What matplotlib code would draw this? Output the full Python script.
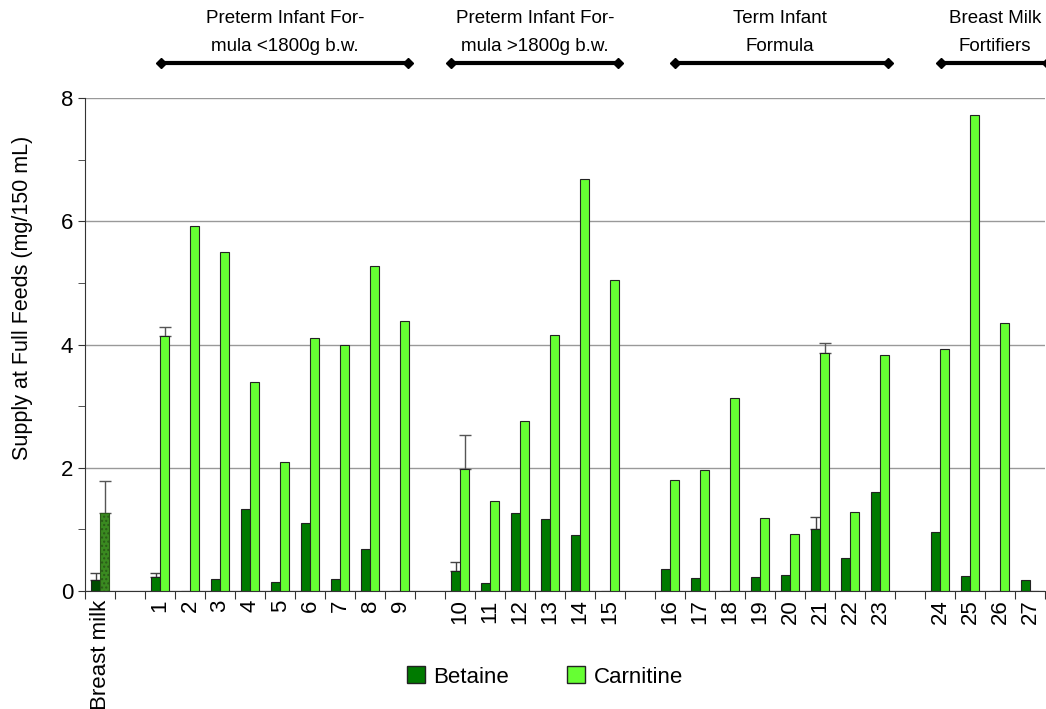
# Betaine and carnitine supply at full feeds - breast milk vs. formulas

import numpy as np
import matplotlib.pyplot as plt
from matplotlib.patches import Patch
from matplotlib.ticker import MultipleLocator

plt.rcParams['font.family'] = ['Liberation Sans', 'DejaVu Sans']

# ==========================
# Data
# ==========================

labels = ["Breast milk", ""] + [str(i) for i in range(1, 10)] + [""] \
    + [str(i) for i in range(10, 16)] + [""] \
    + [str(i) for i in range(16, 24)] + [""] \
    + [str(i) for i in range(24, 28)]

betaine = [0.18, np.nan,
           0.23, 0, 0.19, 1.33, 0.15, 1.10, 0.20, 0.68, 0, np.nan,
           0.32, 0.13, 1.27, 1.17, 0.91, 0, np.nan,
           0.36, 0.21, 0, 0.23, 0.26, 1.01, 0.54, 1.61, np.nan,
           0.96, 0.25, 0, 0.18]

carnitine = [1.27, np.nan,
             4.14, 5.92, 5.50, 3.39, 2.10, 4.10, 4.00, 5.27, 4.38, np.nan,
             1.98, 1.46, 2.76, 4.16, 6.68, 5.05, np.nan,
             1.80, 1.96, 3.13, 1.18, 0.93, 3.87, 1.29, 3.83, np.nan,
             3.93, 7.73, 4.35, 0]

# error bar tops (upper only), keyed by slot index
betaine_err = {0: 0.11, 2: 0.06, 12: 0.15, 24: 0.19}
carnitine_err = {0: 0.52, 2: 0.15, 12: 0.55, 24: 0.16}

groups = [
    ("Preterm Infant For-\nmula <1800g b.w.", 2.03, 10.27, 6.17),
    ("Preterm Infant For-\nmula >1800g b.w.", 11.7, 17.27, 14.5),
    ("Term Infant\nFormula", 19.17, 26.27, 22.67),
    ("Breast Milk\nFortifiers", 28.03, 31.55, 29.83),
]

# ==========================
# Plot
# ==========================

x = np.arange(len(labels))
w = 0.3

fig = plt.figure(figsize=(10.46, 7.09), dpi=100)
ax = fig.add_axes([0.0813, 0.1664, 0.918, 0.6954])

bet_colors = ["#004d00"] + ["#007a00"] * (len(x) - 1)
car_colors = ["#3a8a20"] + ["#66ff33"] * (len(x) - 1)

ax.bar(x - w / 2, betaine, w, color=bet_colors, edgecolor="#222222",
       linewidth=0.8, zorder=3)
cb = ax.bar(x + w / 2, carnitine, w, color=car_colors, edgecolor="#222222",
            linewidth=0.8, zorder=3)
cb[0].set_hatch("....")
cb[0].set_edgecolor("#2a5a18")

for i, e in betaine_err.items():
    ax.errorbar(x[i] - w / 2, betaine[i], yerr=[[0], [e]], fmt="none",
                ecolor="#444444", elinewidth=1, capsize=4, zorder=2)
for i, e in carnitine_err.items():
    ax.errorbar(x[i] + w / 2, carnitine[i], yerr=[[0], [e]], fmt="none",
                ecolor="#555555", elinewidth=1, capsize=4, zorder=2)

ax.set_xlim(-0.5, len(x) - 0.5)
ax.set_ylim(0, 8)

ax.yaxis.set_major_locator(MultipleLocator(2))
ax.yaxis.set_minor_locator(MultipleLocator(1))
ax.grid(axis="y", which="major", color="#999999", linewidth=1, zorder=0)
ax.tick_params(axis="y", which="both", direction="out", length=5,
               labelsize=16, color="#333333")

ax.set_xticks(np.arange(-0.5, len(x), 1))
ax.set_xticklabels([])
ax.set_xticks(x, minor=True)
ax.set_xticklabels(labels, minor=True, rotation=90, fontsize=16)
ax.tick_params(axis="x", which="major", direction="out", length=6, color="#333333")
ax.tick_params(axis="x", which="minor", length=0, pad=6)

ax.set_ylabel("Supply at Full Feeds (mg/150 mL)", fontsize=15.5)
ax.yaxis.set_label_coords(-0.054, 0.594)

for s in ["top", "right"]:
    ax.spines[s].set_visible(False)
ax.spines["left"].set_color("#333333")
ax.spines["bottom"].set_color("#333333")

# group arrows and titles above the axes
for name, x0, x1, xc in groups:
    ax.plot([x0, x1], [8.56, 8.56], color="black", lw=3, clip_on=False,
            solid_capstyle="butt")
    ax.plot([x0, x1], [8.56, 8.56], linestyle="none", marker="D",
            markersize=5, color="black", clip_on=False)
    ax.text(xc, 8.7, name, ha="center", va="bottom",
            fontsize=13.5, linespacing=1.85, clip_on=False)

handles = [Patch(facecolor="#007a00", edgecolor="#222222", label="Betaine"),
           Patch(facecolor="#66ff33", edgecolor="#222222", label="Carnitine")]
fig.legend(handles=handles, loc="center", bbox_to_anchor=(0.521, 0.045),
           ncol=2, frameon=False, fontsize=16, handlelength=0.8,
           handleheight=0.8, columnspacing=2.6, handletextpad=0.4)

plt.savefig("out.png", dpi=100)
